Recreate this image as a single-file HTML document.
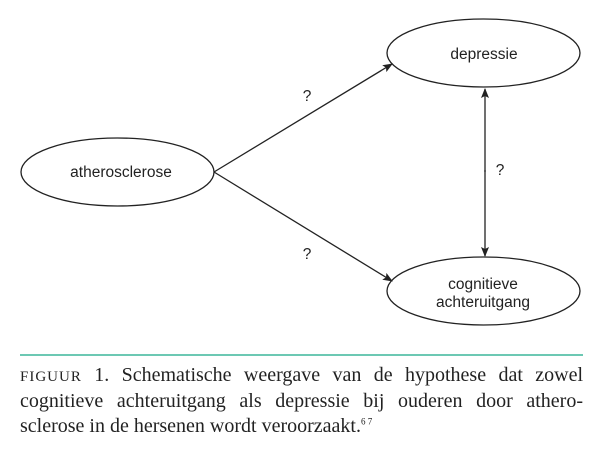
<!DOCTYPE html>
<html><head><meta charset="utf-8"><style>
body{margin:0;background:#fff;width:600px;height:462px;overflow:hidden;position:relative}
.l{position:absolute;left:20px;width:563px;font-family:"Liberation Serif",serif;font-size:20px;color:#222;white-space:nowrap}
.j{text-align:justify;text-align-last:justify;white-space:normal}
.sc{font-size:15px;letter-spacing:1px}
</style></head><body>
<svg width="600" height="462" style="position:absolute;left:0;top:0">
<defs><marker id="a" markerWidth="10" markerHeight="8" refX="9" refY="4" orient="auto" markerUnits="userSpaceOnUse"><path d="M0,0 L10,4 L0,8 L2,4z" fill="#222"/></marker></defs>
<g fill="none" stroke="#222" stroke-width="1.3">
<ellipse cx="117.5" cy="172" rx="96.5" ry="34"/>
<ellipse cx="483.5" cy="53" rx="96.5" ry="34"/>
<ellipse cx="483.5" cy="291" rx="96.5" ry="34"/>
<line x1="214" y1="172" x2="392" y2="64" marker-end="url(#a)"/>
<line x1="214" y1="172" x2="392" y2="281" marker-end="url(#a)"/>
<line x1="485" y1="172" x2="485" y2="89" marker-end="url(#a)"/>
<line x1="485" y1="170" x2="485" y2="256" marker-end="url(#a)"/>
</g>
<line x1="20" y1="355" x2="583" y2="355" stroke="#3bb59a" stroke-width="1.5"/>
<g font-family="Liberation Sans, sans-serif" font-size="15.5" fill="#222" text-anchor="middle">
<text x="121" y="177">atherosclerose</text>
<text x="484" y="59">depressie</text>
<text x="483" y="289">cognitieve</text>
<text x="483" y="307">achteruitgang</text>
<text x="307" y="101">?</text>
<text x="307" y="259">?</text>
<text x="500" y="175">?</text>
</g>
</svg>
<div class="l j" style="top:364px"><span class="sc">FIGUUR</span> 1. Schematische weergave van de hypothese dat zowel</div>
<div class="l j" style="top:390px">cognitieve achteruitgang als depressie bij ouderen door athero-</div>
<div class="l" style="top:415px">sclerose in de hersenen wordt veroorzaakt.<sup style="font-size:9px">6 7</sup></div>
</body></html>
